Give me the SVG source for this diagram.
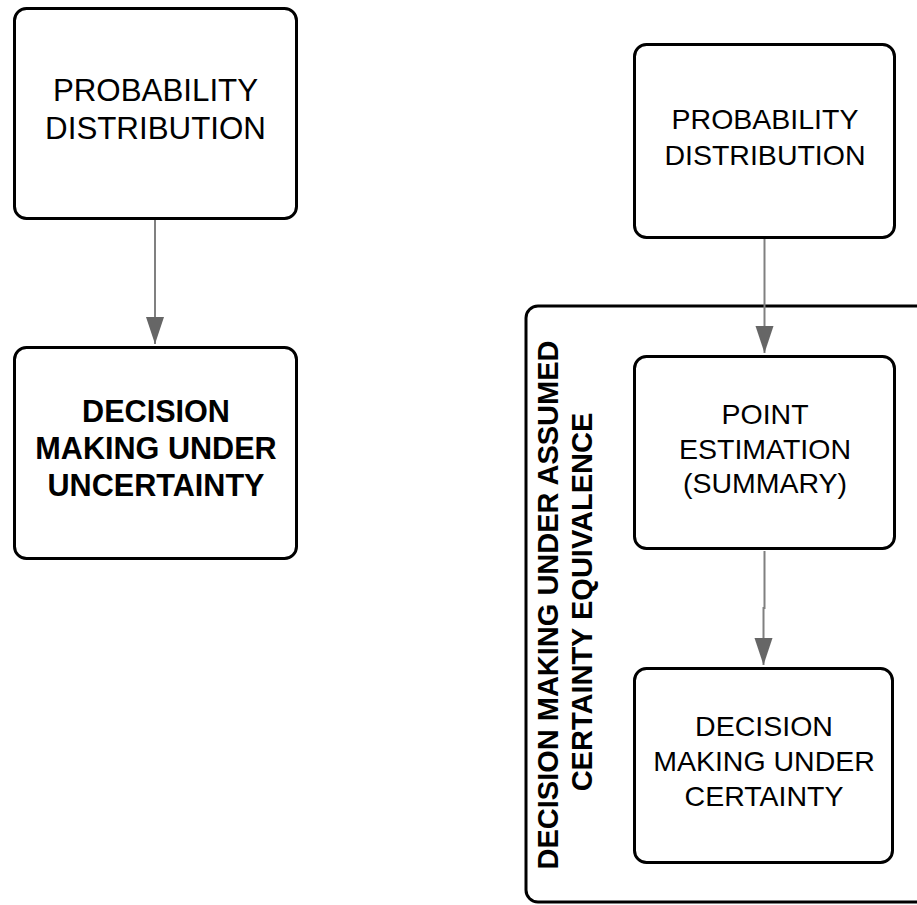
<svg xmlns="http://www.w3.org/2000/svg" width="917" height="905" viewBox="0 0 917 905">
<style>
.box{fill:#fff;stroke:#000;stroke-width:3}
.cont{fill:none;stroke:#000;stroke-width:3}
.edge{fill:none;stroke:#808080;stroke-width:2}
text{font-family:"Liberation Sans",Arial,sans-serif;fill:#000;text-anchor:middle}
.t30{font-size:31.3px}
.t27{font-size:28.5px}
.b28{font-size:30.6px;font-weight:bold}
.b27{font-size:29px;font-weight:bold}
</style>
<defs>
<marker id="ah" markerUnits="userSpaceOnUse" markerWidth="28" markerHeight="19" refX="27" refY="9" orient="auto">
<path d="M0,0 L27,9 L0,18 Z" fill="#666"/>
</marker>
</defs>
<g id="container">
<rect class="cont" x="526" y="306" width="430" height="596" rx="12"/>
<text class="b27" transform="translate(557.5,605) rotate(-90)">DECISION MAKING UNDER ASSUMED</text>
<text class="b27" transform="translate(591.5,602) rotate(-90)">CERTAINTY EQUIVALENCE</text>
</g>
<g id="edges">
<path class="edge" d="M155,220 V344" marker-end="url(#ah)"/>
<path class="edge" d="M764.5,239 V353" marker-end="url(#ah)"/>
<path class="edge" d="M764.5,551 V608 H763.5 V665" marker-end="url(#ah)"/>
</g>
<g id="left-prob">
<rect class="box" x="14.5" y="8.5" width="282" height="210" rx="12"/>
<text class="t30" x="155.5" y="101">PROBABILITY</text>
<text class="t30" x="155.5" y="139">DISTRIBUTION</text>
</g>
<g id="left-decision">
<rect class="box" x="14.5" y="347.5" width="282" height="211" rx="12"/>
<text class="b28" x="156" y="422">DECISION</text>
<text class="b28" x="156" y="459">MAKING UNDER</text>
<text class="b28" x="156" y="496">UNCERTAINTY</text>
</g>
<g id="right-prob">
<rect class="box" x="634.5" y="44.5" width="260" height="193" rx="12"/>
<text class="t27" x="765" y="129">PROBABILITY</text>
<text class="t27" x="765" y="165">DISTRIBUTION</text>
</g>
<g id="point-estimation">
<rect class="box" x="634.5" y="356.5" width="260" height="192" rx="12"/>
<text class="t27" x="765" y="424">POINT</text>
<text class="t27" x="765" y="459">ESTIMATION</text>
<text class="t27" x="765" y="493">(SUMMARY)</text>
</g>
<g id="decision-certainty">
<rect class="box" x="634.5" y="668.5" width="258" height="194" rx="12"/>
<text class="t27" x="764" y="736">DECISION</text>
<text class="t27" x="764" y="771">MAKING UNDER</text>
<text class="t27" x="764" y="806">CERTAINTY</text>
</g>
</svg>
